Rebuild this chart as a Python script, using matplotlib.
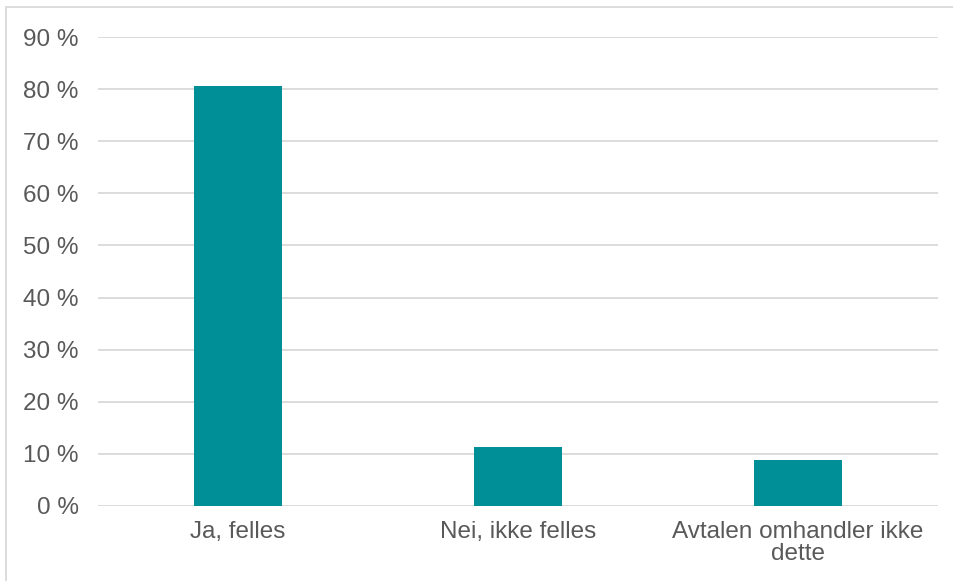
import matplotlib.pyplot as plt
from matplotlib.patches import Rectangle
from matplotlib.ticker import MultipleLocator, FuncFormatter

# Andel svar per kategori (prosent)
categories = ["Ja, felles", "Nei, ikke felles", "Avtalen omhandler ikke\ndette"]
shares = [80.6, 11.4, 8.8]

BAR_COLOR = "#008F96"
TEXT_COLOR = "#595959"
GRID_COLOR = "#D9D9D9"

plt.rcParams["font.family"] = ["Liberation Sans", "DejaVu Sans"]

fig = plt.figure(figsize=(9.54, 5.81), dpi=100, facecolor="white")
ax = fig.add_axes([98 / 954, 1 - 506 / 581, 840 / 954, 469 / 581])

x = range(len(categories))
ax.bar(x, shares, width=0.314, color=BAR_COLOR, zorder=3)

ax.set_xlim(-0.5, len(categories) - 0.5)
ax.set_ylim(0, 90)
ax.yaxis.set_major_locator(MultipleLocator(10))
ax.yaxis.set_major_formatter(FuncFormatter(lambda v, _: f"{v:.0f} %"))
ax.set_xticks(list(x))
ax.set_xticklabels(categories, linespacing=1.05)

ax.grid(axis="y", color=GRID_COLOR, linewidth=1.3, zorder=0)
for spine in ax.spines.values():
    spine.set_visible(False)
ax.tick_params(axis="both", length=0, labelsize=17.5, colors=TEXT_COLOR)
ax.tick_params(axis="y", pad=14)
ax.tick_params(axis="x", pad=10.5)

# Light frame around the chart area
fig.patches.append(Rectangle((6 / 954, -0.05), 1.1, 1 - 7 / 581 + 0.05,
                             transform=fig.transFigure, fill=False,
                             edgecolor=GRID_COLOR, linewidth=1.3))

fig.savefig("out.png", dpi=100, facecolor="white")
